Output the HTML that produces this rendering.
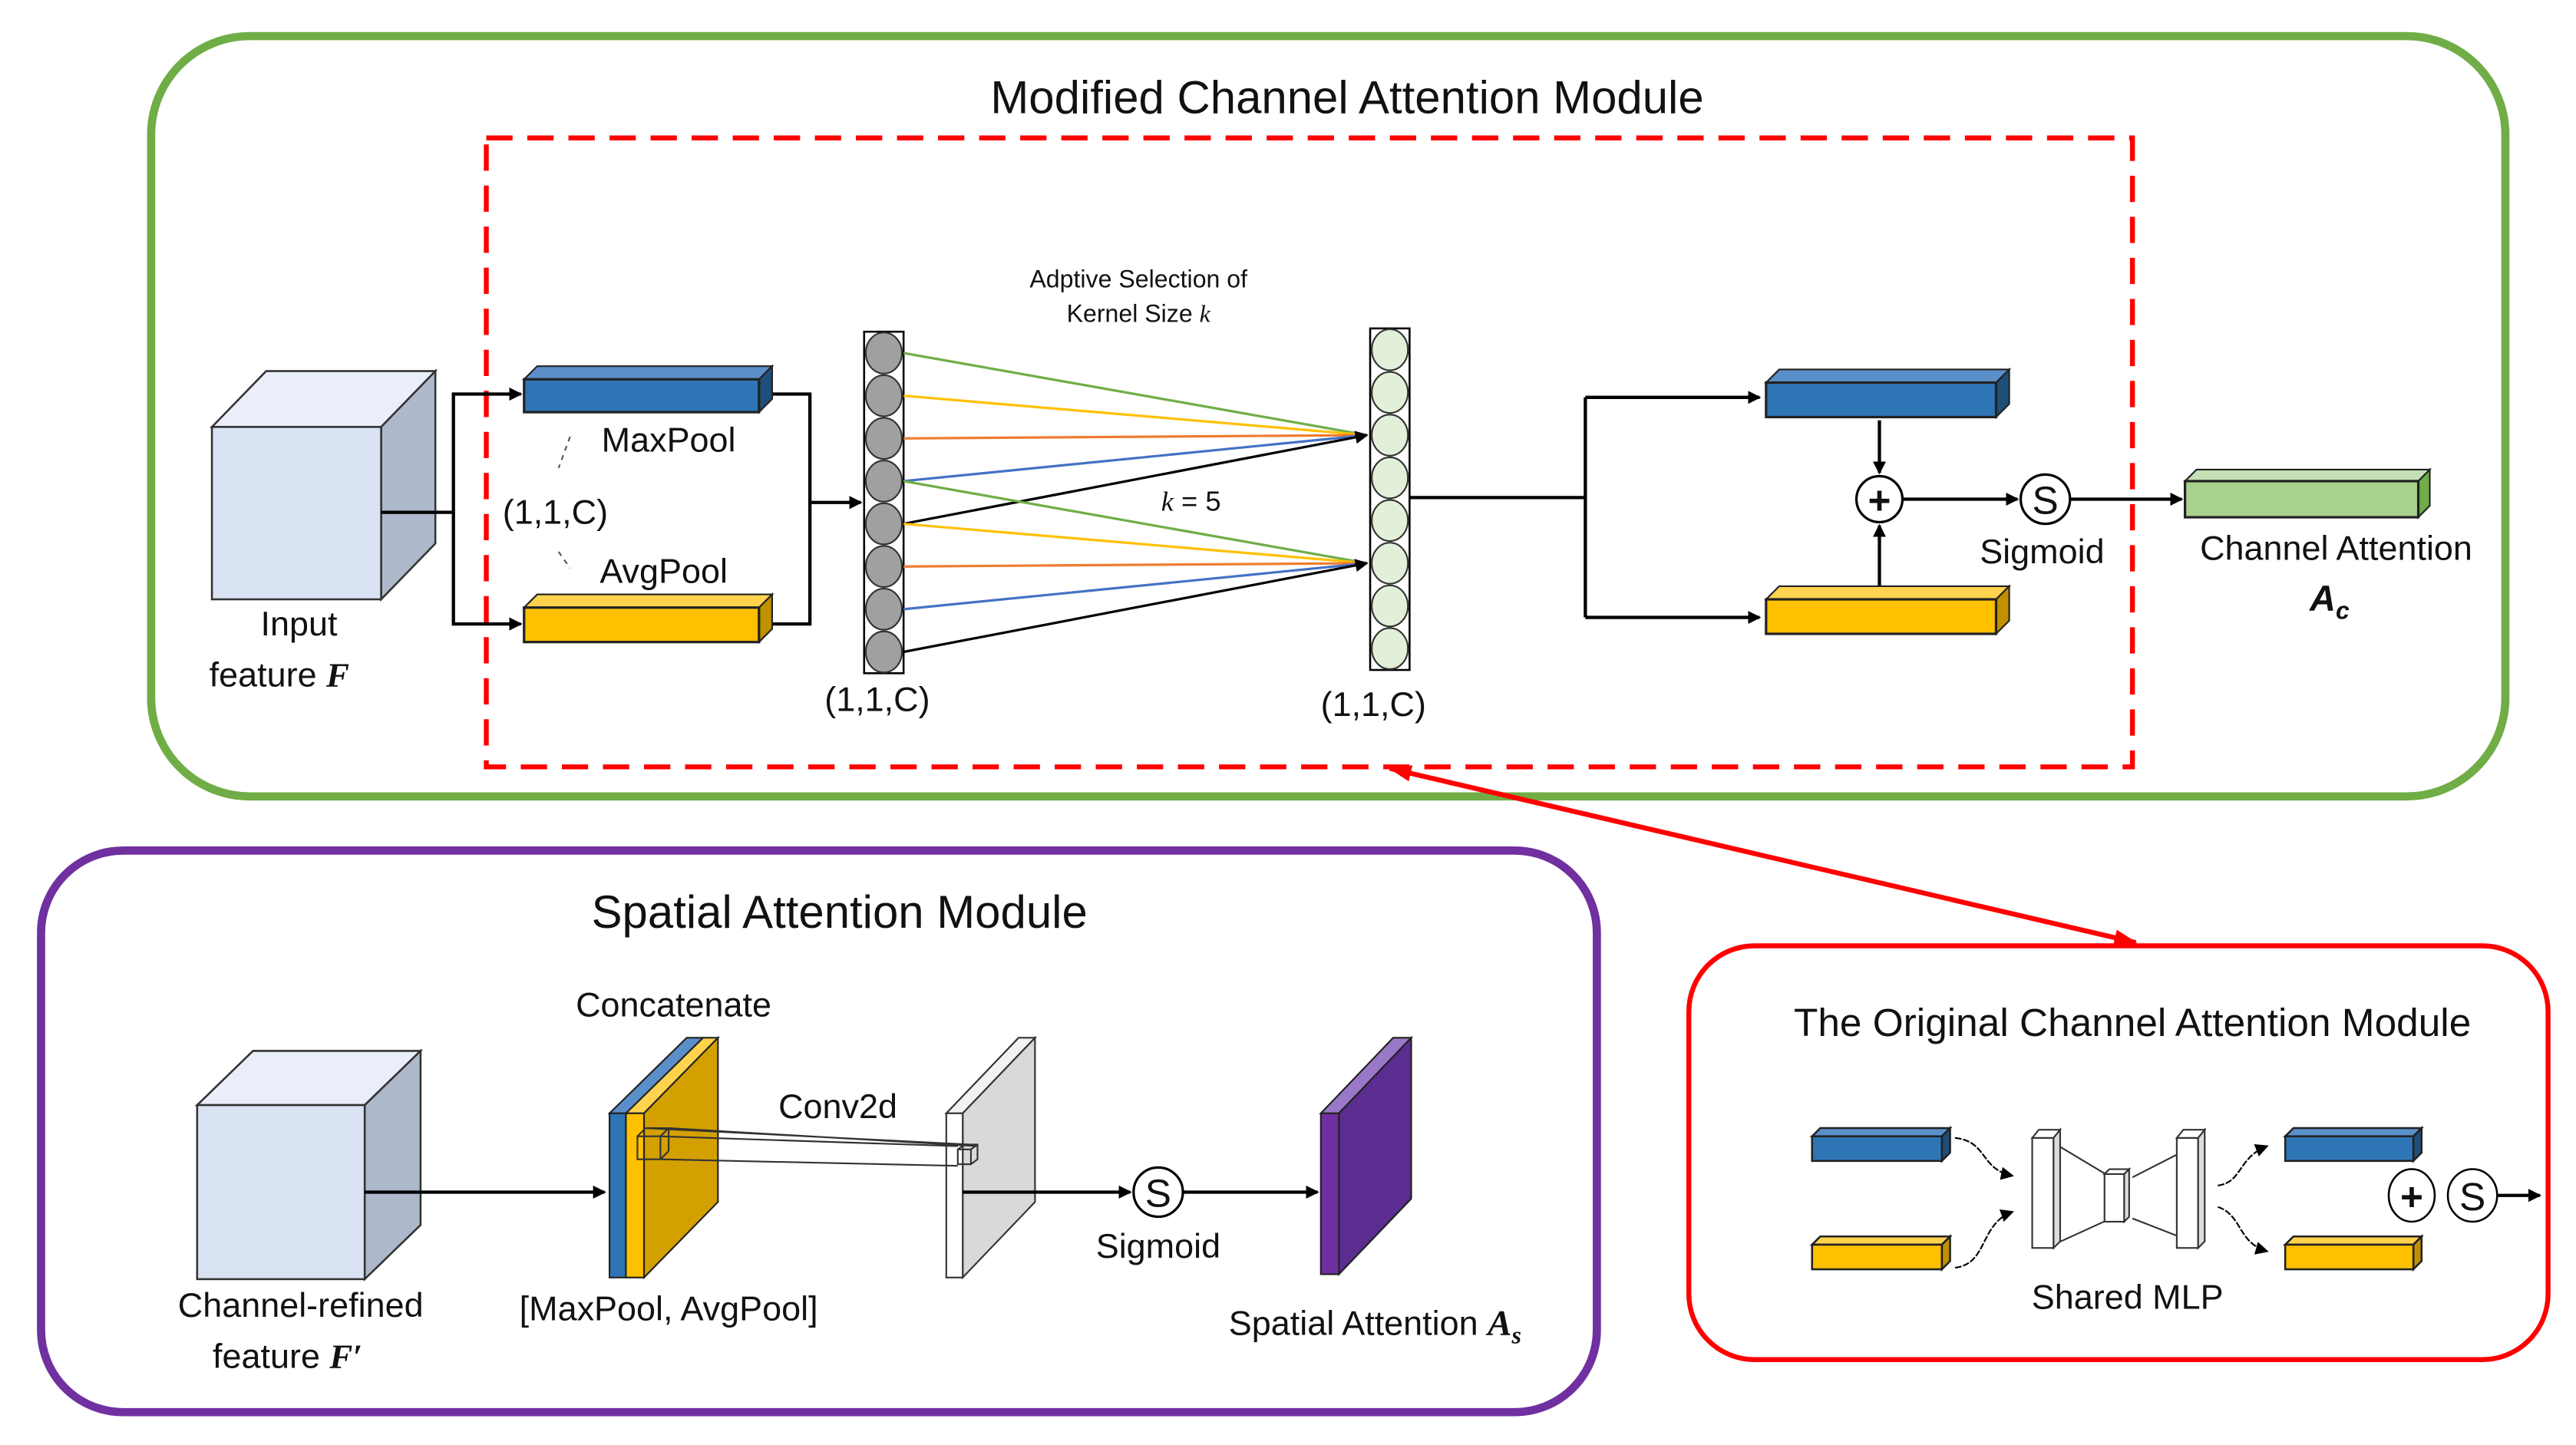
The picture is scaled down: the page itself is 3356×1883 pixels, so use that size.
<!DOCTYPE html>
<html><head><meta charset="utf-8"><style>
html,body{margin:0;padding:0;background:#fff}
svg{display:block}
text{font-family:"Liberation Sans","DejaVu Sans",sans-serif;fill:#111}
</style></head><body>
<svg width="3356" height="1883" viewBox="0 0 1568 880" preserveAspectRatio="none" xmlns="http://www.w3.org/2000/svg">
<defs>
<marker id="ar" markerWidth="8" markerHeight="8" refX="7" refY="4" orient="auto" markerUnits="userSpaceOnUse"><path d="M0,0 L8,4 L0,8 z" fill="#000"/></marker>
<marker id="arr" markerWidth="14" markerHeight="10" refX="13" refY="5" orient="auto" markerUnits="userSpaceOnUse"><path d="M0,0 L14,5 L0,10 z" fill="#f00"/></marker>
<marker id="arrs" markerWidth="14" markerHeight="10" refX="1" refY="5" orient="auto" markerUnits="userSpaceOnUse"><path d="M14,0 L0,5 L14,10 z" fill="#f00"/></marker>
</defs>

<!-- Green module -->
<rect x="92" y="22" width="1433" height="463" rx="60" fill="none" stroke="#70ad47" stroke-width="5"/>
<text x="820" y="69" font-size="28" text-anchor="middle">Modified Channel Attention Module</text>
<rect x="296" y="84" width="1002" height="383" fill="none" stroke="#f00" stroke-width="3" stroke-dasharray="16 9"/>

<!-- input cube -->
<polygon points="129,260 162,226 265,226 232,260" fill="#e9eef8" stroke="#333" stroke-width="1.2"/>
<polygon points="232,260 265,226 265,331 232,365" fill="#adb9ca" stroke="#333" stroke-width="1.2"/>
<rect x="129" y="260" width="103" height="105" fill="#dae3f3" stroke="#333" stroke-width="1.2"/>
<text x="182" y="387" font-size="21" text-anchor="middle">Input</text>
<text x="170" y="418" font-size="21" text-anchor="middle">feature <tspan font-family="Liberation Serif" font-style="italic" font-weight="bold">F</tspan></text>

<g stroke="#000" stroke-width="2" fill="none">
<path d="M232,312 H276 V240 H317" marker-end="url(#ar)"/>
<path d="M276,312 V380 H317" marker-end="url(#ar)"/>
<path d="M469,240 H493 V380 H469"/>
<path d="M493,306 H524" marker-end="url(#ar)"/>
</g>
<!-- blue/yellow bars -->
<polygon points="319,231 327,223 470,223 462,231" fill="#5b8fc9" stroke="#222"/>
<polygon points="462,231 470,223 470,243 462,251" fill="#1f4e79" stroke="#222"/>
<rect x="319" y="231" width="143" height="20" fill="#2e75b6" stroke="#222" stroke-width="1.5"/>
<polygon points="319,370 327,362 470,362 462,370" fill="#ffd34d" stroke="#222"/>
<polygon points="462,370 470,362 470,383 462,391" fill="#c09000" stroke="#222"/>
<rect x="319" y="370" width="143" height="21" fill="#ffc000" stroke="#222" stroke-width="1.5"/>
<text x="407" y="275" font-size="21" text-anchor="middle">MaxPool</text>
<text x="338" y="319" font-size="21" text-anchor="middle">(1,1,C)</text>
<text x="404" y="355" font-size="21" text-anchor="middle">AvgPool</text>
<path d="M347,266 L340,285" stroke="#555" stroke-dasharray="3 3"/>
<path d="M340,336 L347,346" stroke="#555" stroke-dasharray="3 3"/>

<!-- gray column -->
<rect x="526" y="202" width="24" height="208" fill="#fff" stroke="#000" stroke-width="1.2"/>
<g fill="#a0a0a0" stroke="#333" stroke-width="1">
<ellipse cx="538" cy="215" rx="11" ry="12.5"/><ellipse cx="538" cy="241" rx="11" ry="12.5"/>
<ellipse cx="538" cy="267" rx="11" ry="12.5"/><ellipse cx="538" cy="293" rx="11" ry="12.5"/>
<ellipse cx="538" cy="319" rx="11" ry="12.5"/><ellipse cx="538" cy="345" rx="11" ry="12.5"/>
<ellipse cx="538" cy="371" rx="11" ry="12.5"/><ellipse cx="538" cy="397" rx="11" ry="12.5"/>
</g>
<text x="534" y="433" font-size="21" text-anchor="middle">(1,1,C)</text>
<!-- green column -->
<rect x="834" y="200" width="24" height="208" fill="#fff" stroke="#000" stroke-width="1.2"/>
<g fill="#e2f0d9" stroke="#333" stroke-width="1">
<ellipse cx="846" cy="213" rx="11" ry="12.5"/><ellipse cx="846" cy="239" rx="11" ry="12.5"/>
<ellipse cx="846" cy="265" rx="11" ry="12.5"/><ellipse cx="846" cy="291" rx="11" ry="12.5"/>
<ellipse cx="846" cy="317" rx="11" ry="12.5"/><ellipse cx="846" cy="343" rx="11" ry="12.5"/>
<ellipse cx="846" cy="369" rx="11" ry="12.5"/><ellipse cx="846" cy="395" rx="11" ry="12.5"/>
</g>
<text x="836" y="436" font-size="21" text-anchor="middle">(1,1,C)</text>
<!-- connections -->
<g stroke-width="1.5" fill="none">
<path d="M550,215 L832,265" stroke="#70ad47"/>
<path d="M550,241 L832,265" stroke="#ffc000"/>
<path d="M550,267 L832,265" stroke="#ed7d31"/>
<path d="M550,293 L832,265" stroke="#4472c4"/>
<path d="M550,319 L832,265" stroke="#000" marker-end="url(#ar)"/>
<path d="M550,293 L832,343" stroke="#70ad47"/>
<path d="M550,319 L832,343" stroke="#ffc000"/>
<path d="M550,345 L832,343" stroke="#ed7d31"/>
<path d="M550,371 L832,343" stroke="#4472c4"/>
<path d="M550,397 L832,343" stroke="#000" marker-end="url(#ar)"/>
</g>
<text x="693" y="175" font-size="15" text-anchor="middle">Adptive Selection of</text>
<text x="693" y="196" font-size="15" text-anchor="middle">Kernel Size <tspan font-family="Liberation Serif" font-style="italic">k</tspan></text>
<text x="725" y="311" font-size="17" text-anchor="middle"><tspan font-family="Liberation Serif" font-style="italic">k</tspan> = 5</text>

<g stroke="#000" stroke-width="2" fill="none">
<path d="M858,303 H965"/>
<path d="M965,242 V376"/>
<path d="M965,242 H1071" marker-end="url(#ar)"/>
<path d="M965,376 H1071" marker-end="url(#ar)"/>
<path d="M1144,256 V288" marker-end="url(#ar)"/>
<path d="M1144,364 V320" marker-end="url(#ar)"/>
<path d="M1158,304 H1228" marker-end="url(#ar)"/>
<path d="M1260,304 H1328" marker-end="url(#ar)"/>
</g>
<polygon points="1075,233 1083,225 1223,225 1215,233" fill="#5b8fc9" stroke="#222"/>
<polygon points="1215,233 1223,225 1223,246 1215,254" fill="#1f4e79" stroke="#222"/>
<rect x="1075" y="233" width="140" height="21" fill="#2e75b6" stroke="#222" stroke-width="1.5"/>
<polygon points="1075,365 1083,357 1223,357 1215,365" fill="#ffd34d" stroke="#222"/>
<polygon points="1215,365 1223,357 1223,378 1215,386" fill="#c09000" stroke="#222"/>
<rect x="1075" y="365" width="140" height="21" fill="#ffc000" stroke="#222" stroke-width="1.5"/>
<circle cx="1144" cy="304" r="14" fill="#fff" stroke="#000" stroke-width="1.5"/>
<text x="1144" y="313" font-size="24" font-weight="bold" text-anchor="middle">+</text>
<circle cx="1245" cy="304" r="15" fill="#fff" stroke="#000" stroke-width="1.5"/>
<text x="1245" y="313" font-size="24" text-anchor="middle">S</text>
<text x="1243" y="343" font-size="21" text-anchor="middle">Sigmoid</text>
<polygon points="1330,293 1337,286 1479,286 1472,293" fill="#c5e0b4" stroke="#222"/>
<polygon points="1472,293 1479,286 1479,308 1472,315" fill="#70ad47" stroke="#222"/>
<rect x="1330" y="293" width="142" height="22" fill="#a9d18e" stroke="#222" stroke-width="1.5"/>
<text x="1422" y="341" font-size="21" text-anchor="middle">Channel Attention</text>
<text x="1418" y="372" font-size="22" font-family="Liberation Serif" font-style="italic" font-weight="bold" text-anchor="middle">A<tspan font-size="15" dy="5">c</tspan></text>

<!-- red connector -->
<path d="M846,468 L1300,574" stroke="#f00" stroke-width="3" fill="none" marker-start="url(#arrs)" marker-end="url(#arr)"/>

<!-- Spatial module -->
<rect x="25" y="518" width="947" height="342" rx="50" fill="none" stroke="#7030a0" stroke-width="5"/>
<text x="511" y="565" font-size="28" text-anchor="middle">Spatial Attention Module</text>
<polygon points="120,673 154,640 256,640 222,673" fill="#e9eef8" stroke="#333" stroke-width="1.2"/>
<polygon points="222,673 256,640 256,746 222,779" fill="#adb9ca" stroke="#333" stroke-width="1.2"/>
<rect x="120" y="673" width="102" height="106" fill="#dae3f3" stroke="#333" stroke-width="1.2"/>
<text x="183" y="802" font-size="21" text-anchor="middle">Channel-refined</text>
<text x="175" y="833" font-size="21" text-anchor="middle">feature <tspan font-family="Liberation Serif" font-style="italic" font-weight="bold">F′</tspan></text>
<path d="M222,726 H368" stroke="#000" stroke-width="2" marker-end="url(#ar)"/>
<!-- concat slab -->
<polygon points="371,678 418,632 428,632 381,678" fill="#5b8fc9" stroke="#222"/>
<polygon points="381,678 428,632 437,632 392,678" fill="#ffd34d" stroke="#222"/>
<polygon points="392,678 437,632 437,732 392,778" fill="#d4a000" stroke="#222"/>
<rect x="371" y="678" width="10" height="100" fill="#2e75b6" stroke="#222"/>
<rect x="381" y="678" width="11" height="100" fill="#ffc000" stroke="#222"/>
<text x="410" y="619" font-size="21" text-anchor="middle">Concatenate</text>
<text x="407" y="804" font-size="21" text-anchor="middle">[MaxPool, AvgPool]</text>
<!-- conv slab -->
<polygon points="576,678 620,632 630,632 586,678" fill="#f2f2f2" stroke="#333"/>
<polygon points="586,678 630,632 630,732 586,778" fill="#d9d9d9" stroke="#333"/>
<rect x="576" y="678" width="10" height="100" fill="#fff" stroke="#333"/>
<!-- kernel box lines -->
<g stroke="#333" fill="none" stroke-width="1">
<rect x="388" y="692" width="14" height="14"/>
<path d="M393,687 h14 v14 M388,692 l5,-5 M402,692 l5,-5 M402,706 l5,-5"/>
<path d="M402,692 L583,698 M402,706 L583,710 M407,687 L595,698 M393,687 L590,697"/>
<rect x="583" y="700" width="8" height="9"/>
<path d="M583,700 l4,-3 h8 v9 l-4,3 M591,700 l4,-3"/>
</g>
<text x="510" y="681" font-size="21" text-anchor="middle">Conv2d</text>
<path d="M586,726 H688" stroke="#000" stroke-width="2" marker-end="url(#ar)"/>
<circle cx="705" cy="726" r="15" fill="#fff" stroke="#000" stroke-width="1.5"/>
<text x="705" y="735" font-size="24" text-anchor="middle">S</text>
<text x="705" y="766" font-size="21" text-anchor="middle">Sigmoid</text>
<path d="M720,726 H802" stroke="#000" stroke-width="2" marker-end="url(#ar)"/>
<polygon points="804,678 848,632 859,632 815,678" fill="#9a78c8" stroke="#222"/>
<polygon points="815,678 859,632 859,730 815,776" fill="#5c2d91" stroke="#222"/>
<rect x="804" y="678" width="11" height="98" fill="#7030a0" stroke="#222"/>
<text x="837" y="813" font-size="21" text-anchor="middle">Spatial Attention <tspan font-family="Liberation Serif" font-style="italic" font-weight="bold" font-size="22">A<tspan font-size="15" dy="5">s</tspan></tspan></text>

<!-- Original module -->
<rect x="1028" y="576" width="523" height="252" rx="40" fill="none" stroke="#f00" stroke-width="3"/>
<text x="1298" y="631" font-size="24" text-anchor="middle">The Original Channel Attention Module</text>
<g stroke="#222" stroke-width="1.2">
<polygon points="1103,692 1108,687 1187,687 1182,692" fill="#5b8fc9"/>
<polygon points="1182,692 1187,687 1187,702 1182,707" fill="#1f4e79"/>
<rect x="1103" y="692" width="79" height="15" fill="#2e75b6"/>
<polygon points="1103,758 1108,753 1187,753 1182,758" fill="#ffd34d"/>
<polygon points="1182,758 1187,753 1187,768 1182,773" fill="#c09000"/>
<rect x="1103" y="758" width="79" height="15" fill="#ffc000"/>
<polygon points="1391,692 1396,687 1474,687 1469,692" fill="#5b8fc9"/>
<polygon points="1469,692 1474,687 1474,702 1469,707" fill="#1f4e79"/>
<rect x="1391" y="692" width="78" height="15" fill="#2e75b6"/>
<polygon points="1391,758 1396,753 1474,753 1469,758" fill="#ffd34d"/>
<polygon points="1469,758 1474,753 1474,768 1469,773" fill="#c09000"/>
<rect x="1391" y="758" width="78" height="15" fill="#ffc000"/>
</g>
<g stroke="#333" stroke-width="1" fill="#fff">
<path d="M1250,696 L1285,717 M1250,758 L1285,742 M1339,696 L1298,717 M1339,758 L1298,742" fill="none"/>
<rect x="1237" y="693" width="13" height="67"/><polygon points="1237,693 1241,688 1254,688 1250,693"/><polygon points="1250,693 1254,688 1254,756 1250,760" fill="#ddd"/>
<rect x="1281" y="715" width="12" height="29"/><polygon points="1281,715 1284,712 1296,712 1293,715"/><polygon points="1293,715 1296,712 1296,741 1293,744" fill="#ddd"/>
<rect x="1325" y="693" width="13" height="67"/><polygon points="1325,693 1329,688 1342,688 1338,693"/><polygon points="1338,693 1342,688 1342,756 1338,760" fill="#ddd"/>
</g>
<g stroke="#000" stroke-width="1" fill="none" stroke-dasharray="4 1">
<path d="M1190,693 C1210,695 1205,712 1225,716" marker-end="url(#ar)"/>
<path d="M1190,772 C1210,770 1205,745 1225,738" marker-end="url(#ar)"/>
<path d="M1350,722 C1365,720 1362,705 1380,698" marker-end="url(#ar)"/>
<path d="M1350,735 C1365,740 1362,757 1380,762" marker-end="url(#ar)"/>
</g>
<text x="1295" y="797" font-size="21" text-anchor="middle">Shared MLP</text>
<ellipse cx="1468" cy="728" rx="14" ry="16" fill="#fff" stroke="#000" stroke-width="1.2"/>
<text x="1468" y="737" font-size="24" font-weight="bold" text-anchor="middle">+</text>
<ellipse cx="1505" cy="728" rx="15" ry="16" fill="#fff" stroke="#000" stroke-width="1.2"/>
<text x="1505" y="737" font-size="24" text-anchor="middle">S</text>
<path d="M1520,728 H1546" stroke="#000" stroke-width="2" marker-end="url(#ar)"/>
</svg>
</body></html>
